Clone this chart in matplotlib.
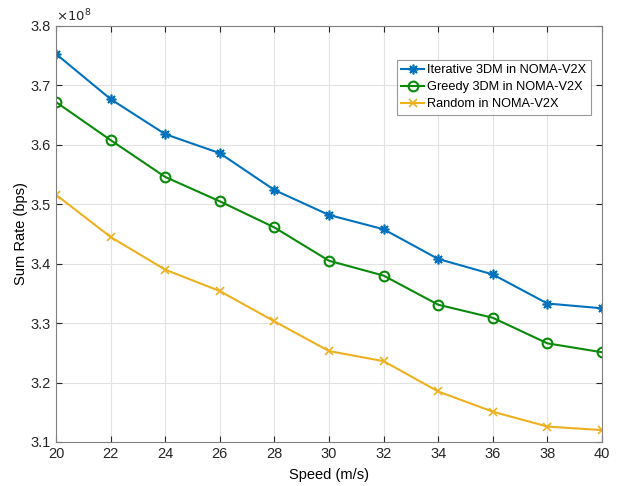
import matplotlib
matplotlib.use('Agg')
import matplotlib.pyplot as plt
import numpy as np

plt.rcParams.update({'font.family': ['Liberation Sans', 'DejaVu Sans'], 'font.size': 10.5})

# data (sum rate in units of 1e8 bps)
speed = [20, 22, 24, 26, 28, 30, 32, 34, 36, 38, 40]
iterative = [3.753, 3.677, 3.618, 3.586, 3.524, 3.482, 3.458, 3.408, 3.382, 3.333, 3.325]
greedy = [3.672, 3.608, 3.546, 3.505, 3.461, 3.405, 3.380, 3.331, 3.309, 3.266, 3.251]
random_ = [3.516, 3.445, 3.390, 3.354, 3.303, 3.253, 3.236, 3.185, 3.151, 3.126, 3.120]
labels = ['Iterative 3DM in NOMA-V2X', 'Greedy 3DM in NOMA-V2X', 'Random in NOMA-V2X']

fig = plt.figure(figsize=(6.22, 4.86), dpi=100)
ax = fig.add_axes([56/622, 1 - 442/486, (602-56)/622, (442-26)/486])

ax.plot(speed, iterative, '-', marker=(8, 2, 0), color='#0072BD', lw=1.5, ms=7, mew=1.2, label=labels[0])
ax.plot(speed, greedy, '-o', color='#0A8A0A', lw=1.5, ms=7, mfc='none', mew=1.5, label=labels[1])
ax.plot(speed, random_, '-x', color='#EDB120', lw=1.5, ms=6, mew=1.2, label=labels[2])

ax.set_xlim(20, 40)
ax.set_ylim(3.1, 3.8)
ax.set_xticks(np.arange(20, 41, 2))
ax.set_yticks(np.arange(3.1, 3.81, 0.1))
ax.set_yticklabels([f'{v:.1f}' for v in np.arange(3.1, 3.81, 0.1)])
ax.grid(True, color='#e2e2e2', lw=0.8)
ax.tick_params(direction='in', length=4, colors='#262626', top=True, right=True, labeltop=False, labelright=False)
for s in ax.spines.values():
    s.set_color('#808080')
    s.set_linewidth(0.8)

ax.set_xlabel('Speed (m/s)', labelpad=5)
ax.set_ylabel('Sum Rate (bps)', labelpad=2)
ax.text(0.0, 1.005, r'$\times10^8$', transform=ax.transAxes, ha='left', va='bottom', fontsize=9.5, color='#262626')

leg = ax.legend(loc='upper left', bbox_to_anchor=((397-56)/546, 1 - (60-26)/416), fancybox=False, fontsize=9.2,
                handlelength=1.8, handletextpad=0.2, borderpad=0.35, labelspacing=0.38, borderaxespad=0)
leg.get_frame().set_edgecolor('#808080')
leg.get_frame().set_linewidth(0.8)

fig.savefig('out.png', dpi=100)
